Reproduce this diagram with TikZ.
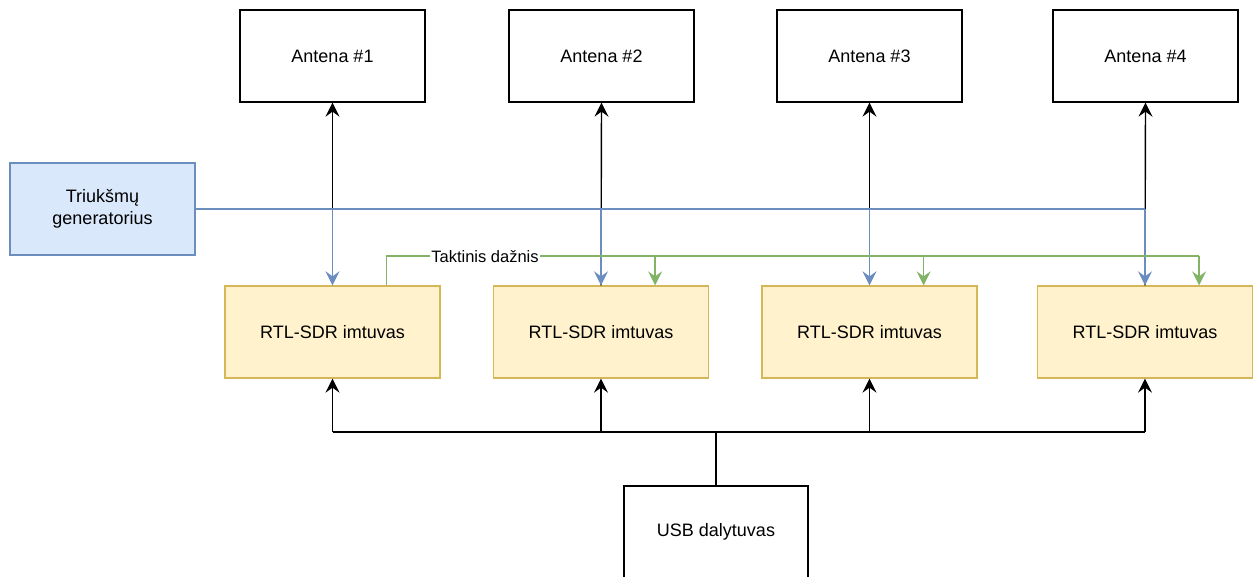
\documentclass[tikz,border=0pt]{standalone}
\usepackage{fontspec}
\setmainfont{Liberation Sans}
\usetikzlibrary{arrows.meta,calc}
\definecolor{bluefill}{HTML}{DAE8FC}
\definecolor{bluestroke}{HTML}{6C8EBF}
\definecolor{yellowfill}{HTML}{FFF2CC}
\definecolor{yellowstroke}{HTML}{D6B656}
\definecolor{greenstroke}{HTML}{82B366}
\tikzset{
  box/.style={draw, line width=1.3pt, minimum width=185pt, minimum height=92pt,
    inner sep=0pt, align=center, font=\fontsize{18}{22}\selectfont},
  antenna/.style={box, fill=white},
  noise/.style={box, fill=bluefill, draw=bluestroke},
  receiver/.style={box, fill=yellowfill, draw=yellowstroke, minimum width=215pt},
  usb/.style={box, fill=white, minimum width=184pt},
  tip/.style={-{Stealth[length=14pt,width=14pt,inset=5pt]}},
  wire/.style={line width=1.4pt},
  noiseline/.style={wire, draw=bluestroke, line width=1.6pt},
  clockline/.style={wire, draw=greenstroke, line width=1.4pt},
  lbl/.style={fill=white, inner sep=1pt, font=\fontsize{16.5}{19}\selectfont}
}
\begin{document}
\begin{tikzpicture}[x=1pt, y=-1pt]
  \useasboundingbox (0,0) rectangle (1259,576);

  % antennas
  \node[antenna] (a1) at (332.5,56) {Antena \#1};
  \node[antenna] (a2) at (601.5,56) {Antena \#2};
  \node[antenna] (a3) at (869.5,56) {Antena \#3};
  \node[antenna] (a4) at (1145.5,56) {Antena \#4};

  % noise generator
  \node[noise] (ng) at (102.5,209) {Triukšmų\\generatorius};

  % receivers
  \node[receiver] (r1) at (332.5,332) {RTL-SDR imtuvas};
  \node[receiver] (r2) at (601,332) {RTL-SDR imtuvas};
  \node[receiver] (r3) at (869.5,332) {RTL-SDR imtuvas};
  \node[receiver] (r4) at (1145,332) {RTL-SDR imtuvas};

  % USB hub
  \node[usb] (usb) at (716,532) {USB dalytuvas};

  % antenna feeds
  \foreach \i in {1,...,4}
    \draw[wire, tip] (r\i.north) -- (a\i.south);

  % noise distribution
  \coordinate (nbus) at (1145,209);
  \draw[noiseline] (ng.east) -- (nbus);
  \foreach \i in {1,...,4}
    \draw[noiseline, tip] (r\i.north |- nbus) -- (r\i.north);

  % shared clock from the first receiver
  \coordinate (c1) at ($(r1.north west)!0.75!(r1.north east)$);
  \coordinate (c2) at ($(r2.north west)!0.75!(r2.north east)$);
  \coordinate (c3) at ($(r3.north west)!0.75!(r3.north east)$);
  \coordinate (c4) at ($(r4.north west)!0.75!(r4.north east)$);
  \coordinate (cbus) at (0,256);
  \draw[clockline] (c1) -- (c1 |- cbus) -- (c4 |- cbus);
  \foreach \i in {2,3,4}
    \draw[clockline, tip] (c\i |- cbus) -- (c\i);
  \node[lbl] (clk) at (485,257) {Taktinis dažnis};

  % USB bus
  \coordinate (ubus) at (716,432);
  \draw[wire] (usb.north) -- (ubus);
  \draw[wire] (r1.south |- ubus) -- (r4.south |- ubus);
  \foreach \i in {1,...,4}
    \draw[wire, tip] (r\i.south |- ubus) -- (r\i.south);
\end{tikzpicture}
\end{document}
